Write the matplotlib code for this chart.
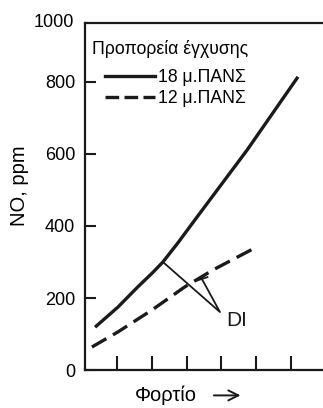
import matplotlib
matplotlib.use('Agg')
import matplotlib.pyplot as plt
from matplotlib.lines import Line2D

plt.rcParams['font.family'] = ['Liberation Sans', 'DejaVu Sans']

# values (x in load-tick units, y in ppm)
x_18 = [0.37, 1.03, 1.60, 2.01, 2.32, 2.75, 3.24, 4.74, 6.20]
y_18 = [119, 175, 231, 269, 300, 353, 417, 611, 814]
x_12 = [0.28, 1.03, 2.01, 2.95, 3.76, 5.02]
y_12 = [64, 106, 167, 231, 278, 342]

# DI marker
di_x = [2.32, 3.96, 3.44]
di_y = [300, 161, 253]
cap_x = [3.28, 3.60]
cap_y = [248, 258]

yticks = [0, 200, 400, 600, 800]
xticks = [1, 2, 3, 4, 5, 6]
labels = ['18 μ.ΠΑΝΣ', '12 μ.ΠΑΝΣ']

fig = plt.figure(figsize=(3.23, 4.08), dpi=100)
ax = fig.add_axes([0.263, 0.093, 0.737, 0.851])

ink = '#1a1a1a'
ax.plot(x_18, y_18, color=ink, lw=2.4, solid_capstyle='butt')
ax.plot(x_12, y_12, color=ink, lw=2.4, dashes=(5, 2.3))
ax.plot(di_x, di_y, color=ink, lw=1.3)
ax.plot(cap_x, cap_y, color=ink, lw=1.3)
ax.text(4.15, 123, 'DI', fontsize=15, color=ink, va='baseline')

ax.set_xlim(0.08, 6.92)
ax.set_ylim(0, 964)
ax.set_yticks(yticks)
ax.set_yticklabels([str(v) for v in yticks])
ax.set_xticks(xticks)
ax.set_xticklabels([])
ax.tick_params(axis='both', direction='in', width=1.5, color=ink)
ax.tick_params(axis='y', length=8, pad=7, labelsize=13)
ax.tick_params(axis='x', length=10)
ax.text(-0.045, 1.0, '1000', transform=ax.transAxes, ha='right', va='center', fontsize=13)

for s in ['left', 'bottom', 'top']:
    ax.spines[s].set_linewidth(1.6)
    ax.spines[s].set_color(ink)
ax.spines['right'].set_visible(False)

ax.set_ylabel('NO, ppm', fontsize=14.5)
ax.yaxis.set_label_coords(-0.235, 0.53)
ax.set_xlabel('Φορτίο', fontsize=14.5)
ax.xaxis.set_label_coords(0.34, -0.045)
ax.annotate('', xy=(0.665, -0.073), xytext=(0.53, -0.073), xycoords='axes fraction',
            arrowprops=dict(arrowstyle='->', color=ink, lw=1.4, mutation_scale=18))

ax.text(0.029, 0.926, 'Προπορεία έγχυσης', transform=ax.transAxes,
        ha='left', va='center', fontsize=12.7)
handles = [Line2D([], [], color=ink, lw=2.4),
           Line2D([], [], color=ink, lw=2.4, dashes=(4.1, 1.6))]
ax.legend(handles, labels, loc='upper left', bbox_to_anchor=(0.085, 0.866),
          frameon=False, fontsize=12.7, handlelength=2.85, handletextpad=0.15,
          labelspacing=0.22, borderpad=0, borderaxespad=0)

fig.savefig('out.png', dpi=100)
